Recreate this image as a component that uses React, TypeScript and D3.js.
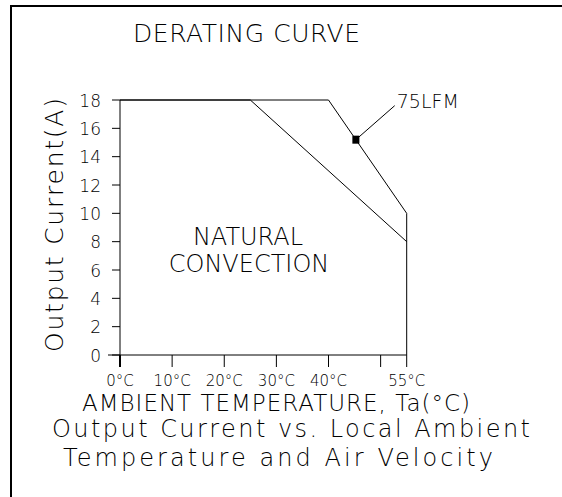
import React from "react";
import * as d3 from "d3";

const xTickValues = [0, 10, 20, 30, 40, 50, 55];
const xTickLabels = ["0°C", "10°C", "20°C", "30°C", "40°C", "", "55°C"];
const yTickValues = [0, 2, 4, 6, 8, 10, 12, 14, 16, 18];
const naturalTemp = [0, 25, 55];
const naturalCurrent = [18, 18, 8];
const lfmTemp = [0, 40, 55, 55];
const lfmCurrent = [18, 18, 10, 0];
const markerTemp = [45.25];
const markerCurrent = [15.2];
const leaderTemp = [45.25, 52.7];
const leaderCurrent = [15.2, 17.6];

const FONT = "'DejaVu Sans', sans-serif";

export default function App() {
  const W = 562, H = 497;
  const x = d3.scaleLinear().domain([0, 55]).range([120, 406.7]);
  const y = d3.scaleLinear().domain([0, 18]).range([355, 100]);
  const line = d3.line<[number, number]>().x(d => x(d[0])).y(d => y(d[1]));
  const natural = naturalTemp.map((t, i) => [t, naturalCurrent[i]] as [number, number]);
  const lfm = lfmTemp.map((t, i) => [t, lfmCurrent[i]] as [number, number]);
  const leader = leaderTemp.map((t, i) => [t, leaderCurrent[i]] as [number, number]);
  const tx = { fontFamily: FONT, fontWeight: 200, fill: "#000" } as any;

  return (
    <svg width={W} height={H} style={{ position: "absolute", left: 0, top: 0, background: "#fff" }}>
      <rect x={0} y={0} width={W} height={H} fill="#fff" />
      {/* frame */}
      <line x1={10} y1={6} x2={W} y2={6} stroke="#000" strokeWidth={2} />
      <line x1={11} y1={5} x2={11} y2={H} stroke="#000" strokeWidth={2} />

      <text x={133} y={42} fontSize={25} textLength={227} lengthAdjust="spacing" {...tx}>DERATING  CURVE</text>

      {/* y axis */}
      <line x1={x(0)} y1={y(18)} x2={x(0)} y2={y(0)} stroke="#000" strokeWidth={1} />
      {yTickValues.map(v => (
        <g key={v}>
          <line x1={x(0) - 8} x2={x(0)} y1={y(v)} y2={y(v)} stroke="#000" strokeWidth={1} />
          <text x={101} y={y(v) + 6.5} fontSize={17} textAnchor="end" {...tx}>{v}</text>
        </g>
      ))}
      {/* x axis */}
      <line x1={x(0) - 12} x2={x(55)} y1={y(0)} y2={y(0)} stroke="#000" strokeWidth={1} />
      {xTickValues.map((v, i) => (
        <g key={v}>
          <line x1={x(v)} x2={x(v)} y1={y(0)} y2={y(0) + 12} stroke="#000" strokeWidth={i === 0 ? 2 : 1} />
          {xTickLabels[i] && (
            <text x={x(v)} y={386} fontSize={15} textAnchor="middle" {...tx}>{xTickLabels[i]}</text>
          )}
        </g>
      ))}

      {/* curves */}
      <path d={line(natural) || ""} fill="none" stroke="#000" strokeWidth={1} />
      <path d={line(lfm) || ""} fill="none" stroke="#000" strokeWidth={1} />
      <path d={line(leader) || ""} fill="none" stroke="#000" strokeWidth={1} />
      {markerTemp.map((t, i) => (
        <rect key={i} x={x(t) - 3.5} y={y(markerCurrent[i]) - 4} width={7} height={8} fill="#000" />
      ))}
      <text x={x(52.7) + 2} y={108} fontSize={19} {...tx}>75LFM</text>

      <text x={248} y={245} fontSize={24} textAnchor="middle" {...tx}>NATURAL</text>
      <text x={249} y={272} fontSize={24} textAnchor="middle" {...tx}>CONVECTION</text>

      <text transform={`translate(63,${225}) rotate(-90)`} x={0} y={0} fontSize={25} textAnchor="middle" textLength={254} lengthAdjust="spacing" {...tx}>Output  Current(A)</text>

      <text x={276} y={411} fontSize={23} textAnchor="middle" textLength={388} lengthAdjust="spacing" {...tx}>AMBIENT TEMPERATURE, Ta(°C)</text>
      <text x={291} y={437} fontSize={24} textAnchor="middle" textLength={478} lengthAdjust="spacing" {...tx}>Output Current vs. Local Ambient</text>
      <text x={278} y={466} fontSize={24} textAnchor="middle" textLength={430} lengthAdjust="spacing" {...tx}>Temperature and Air Velocity</text>
    </svg>
  );
}
